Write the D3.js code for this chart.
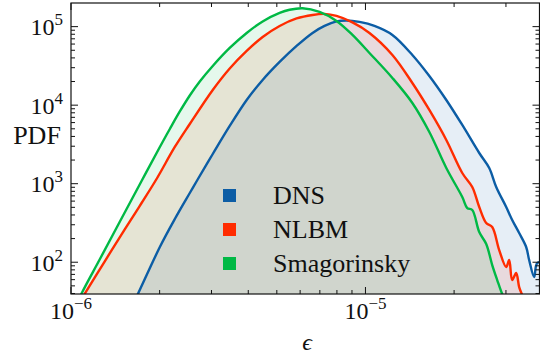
<!DOCTYPE html>
<html>
<head>
<meta charset="utf-8">
<script src="https://cdn.jsdelivr.net/npm/d3@7"></script>
<style>
  html, body { margin: 0; padding: 0; background: #fff; }
  svg { display: block; }
</style>
</head>
<body>
<svg id="chart" width="540" height="360"></svg>
<script>
// ---- data (epsilon, PDF) ----
const seriesNames = ["DNS", "NLBM", "Smagorinsky"];
const seriesColors = ["#0C5DA5", "#FF2C00", "#00B945"];

const dnsEps = [1.6609e-6, 1.6870e-6, 2.0031e-6, 2.2518e-6, 2.5316e-6, 2.6737e-6, 3.0295e-6, 3.4593e-6, 3.9501e-6, 4.4756e-6, 5.1106e-6, 5.8358e-6, 6.6121e-6, 7.2614e-6, 7.9743e-6, 8.6216e-6, 9.5424e-6, 1.0727e-5, 1.2345e-5, 1.4431e-5, 1.6480e-5, 1.8818e-5, 2.1321e-5, 2.4347e-5, 2.6324e-5, 2.7801e-5, 3.0059e-5, 3.1500e-5, 3.3268e-5, 3.5136e-5, 3.5969e-5, 3.7401e-5, 3.8287e-5, 4.0437e-5];
const dnsPdf = [35.0, 39.35, 156.2, 355.0, 761.2, 1082, 2389, 5433, 11650, 20940, 35500, 56760, 83110, 102100, 116500, 119900, 114800, 102100, 78410, 43610, 23550, 11650, 5596, 2461, 1585, 907.8, 505.0, 344.8, 235.5, 156.2, 106.7, 64.8, 97.7, 100.6];

const nlbmEps = [1.0897e-6, 1.1155e-6, 1.3039e-6, 1.5243e-6, 1.7364e-6, 1.9567e-6, 2.2518e-6, 2.5316e-6, 3.0295e-6, 3.4593e-6, 3.9501e-6, 4.4756e-6, 5.1106e-6, 5.8358e-6, 6.6121e-6, 7.2614e-6, 7.9743e-6, 9.0350e-6, 1.0317e-5, 1.2345e-5, 1.4431e-5, 1.6480e-5, 1.8818e-5, 2.1321e-5, 2.3052e-5, 2.4347e-5, 2.5714e-5, 2.6947e-5, 2.8460e-5, 3.0059e-5, 3.0771e-5, 3.1500e-5, 3.2498e-5, 3.3268e-5, 3.4056e-5, 3.4592e-5];
const nlbmPdf = [35.0, 40.16, 103.6, 264.8, 567.6, 1165, 2935, 5762, 15620, 29350, 49030, 73940, 102100, 127200, 140900, 145100, 136900, 113100, 83110, 43610, 19180, 8688, 3604, 1369, 907.8, 505.0, 315.8, 280.8, 143.0, 86.9, 106.7, 59.33, 72.85, 48.31, 38.21, 33.0];

const smagEps = [1.0645e-6, 1.0871e-6, 1.2540e-6, 1.4659e-6, 1.7364e-6, 2.0031e-6, 2.1657e-6, 2.3415e-6, 2.5316e-6, 2.7371e-6, 3.0295e-6, 3.4593e-6, 3.9501e-6, 4.4756e-6, 5.1106e-6, 5.5255e-6, 6.1157e-6, 6.9835e-6, 7.9743e-6, 9.0350e-6, 1.0317e-5, 1.2345e-5, 1.4431e-5, 1.6480e-5, 1.8818e-5, 2.1321e-5, 2.2169e-5, 2.3052e-5, 2.4347e-5, 2.5714e-5, 2.6947e-5, 2.8019e-5, 2.9134e-5, 2.9825e-5];
const smagPdf = [33.0, 40.16, 109.9, 330.0, 1082, 2935, 4976, 8311, 13290, 20040, 31580, 53540, 83110, 116500, 149400, 164200, 171600, 153900, 118200, 78410, 46240, 22210, 10670, 4556, 1585, 677.0, 490.3, 462.4, 242.5, 170.5, 92.1, 59.33, 39.35, 33.0];

const xMajorTicks = [1e-6, 1e-5];
const yMajorTicks = [1e2, 1e3, 1e4, 1e5];
const xTickExp = ["\u22126", "\u22125"];
const yTickExp = ["2", "3", "4", "5"];
const xDomain = [1e-6, 3.9e-5];
const yDomain = [39.4, 2.0e5];
const xLabel = "\u03F5";
const yLabel = "PDF";

// ---- layout ----
const FONT = "'Liberation Serif', 'Times New Roman', 'DejaVu Serif', serif";
const svg = d3.select("#chart").attr("font-family", FONT);
const L = 71, R = 539.5, T = 3, B = 294;

const x = d3.scaleLog().domain(xDomain).range([L, R]);
const y = d3.scaleLog().domain(yDomain).range([B, T]);

svg.append("defs").append("clipPath").attr("id", "clip")
  .append("rect").attr("x", L).attr("y", T).attr("width", R - L).attr("height", B - T);

const series = [
  {eps: dnsEps, pdf: dnsPdf},
  {eps: nlbmEps, pdf: nlbmPdf},
  {eps: smagEps, pdf: smagPdf}
];

const g = svg.append("g").attr("clip-path", "url(#clip)");
const area = d3.area().x(d => x(d[0])).y0(B + 8).y1(d => y(d[1])).curve(d3.curveCatmullRom.alpha(0.5));
const line = d3.line().x(d => x(d[0])).y(d => y(d[1])).curve(d3.curveCatmullRom.alpha(0.5));

series.forEach((s, i) => {
  const pts = s.eps.map((e, j) => [e, s.pdf[j]]);
  g.append("path").attr("d", area(pts)).attr("fill", seriesColors[i]).attr("fill-opacity", 0.1);
});
series.forEach((s, i) => {
  const pts = s.eps.map((e, j) => [e, s.pdf[j]]);
  g.append("path").attr("d", line(pts)).attr("fill", "none")
    .attr("stroke", seriesColors[i]).attr("stroke-width", 2.4).attr("stroke-linejoin", "round");
});

// ---- ticks (inward, all sides) ----
const xMinor = [];
for (let k = -6; k <= -5; k++) for (let m = 2; m <= 9; m++) { const v = m * Math.pow(10, k); if (v > xDomain[0] && v < xDomain[1]) xMinor.push(v); }
const yMinor = [];
for (let k = 1; k <= 5; k++) for (let m = 2; m <= 9; m++) { const v = m * Math.pow(10, k); if (v > yDomain[0] && v < yDomain[1]) yMinor.push(v); }

const tg = svg.append("g").attr("stroke", "#111").attr("stroke-width", 1);
function xt(v, len) {
  tg.append("line").attr("x1", x(v)).attr("x2", x(v)).attr("y1", B).attr("y2", B - len);
  tg.append("line").attr("x1", x(v)).attr("x2", x(v)).attr("y1", T).attr("y2", T + len);
}
function yt(v, len) {
  tg.append("line").attr("y1", y(v)).attr("y2", y(v)).attr("x1", L).attr("x2", L + len);
  tg.append("line").attr("y1", y(v)).attr("y2", y(v)).attr("x1", R).attr("x2", R - len);
}
xMajorTicks.forEach(v => xt(v, 7));
xMinor.forEach(v => xt(v, 4));
yMajorTicks.forEach(v => yt(v, 7));
yMinor.forEach(v => yt(v, 4));

// frame
svg.append("rect").attr("x", L).attr("y", T).attr("width", R - L).attr("height", B - T)
  .attr("fill", "none").attr("stroke", "#111").attr("stroke-width", 1.2);

// ---- tick labels ----
xMajorTicks.forEach((v, i) => {
  const t = svg.append("text").attr("x", x(v)).attr("y", 319).attr("text-anchor", "middle")
    .attr("font-size", 24).attr("fill", "#111");
  t.append("tspan").text("10");
  t.append("tspan").attr("dy", -10).attr("font-size", 17).text(xTickExp[i]);
});
yMajorTicks.forEach((v, i) => {
  const t = svg.append("text").attr("x", 63).attr("y", y(v) + 8.5).attr("text-anchor", "end")
    .attr("font-size", 24).attr("fill", "#111");
  t.append("tspan").text("10");
  t.append("tspan").attr("dy", -10).attr("font-size", 17).text(yTickExp[i]);
});

// axis labels
svg.append("text").attr("x", 307).attr("y", 350).attr("text-anchor", "middle").attr("fill", "#111")
  .attr("font-size", 24).attr("font-style", "italic").text(xLabel);
svg.append("text").attr("x", 37).attr("y", 144).attr("text-anchor", "middle").attr("fill", "#111")
  .attr("font-size", 26).text(yLabel);

// ---- legend ----
const lg = svg.append("g");
seriesNames.forEach((n, i) => {
  const cy = 195.5 + i * 34;
  lg.append("rect").attr("x", 223).attr("y", cy - 6.5).attr("width", 13).attr("height", 13).attr("fill", seriesColors[i]);
  lg.append("text").attr("x", 273).attr("y", cy + 8.5).attr("font-size", 26).attr("fill", "#111").text(n);
});
</script>
</body>
</html>
